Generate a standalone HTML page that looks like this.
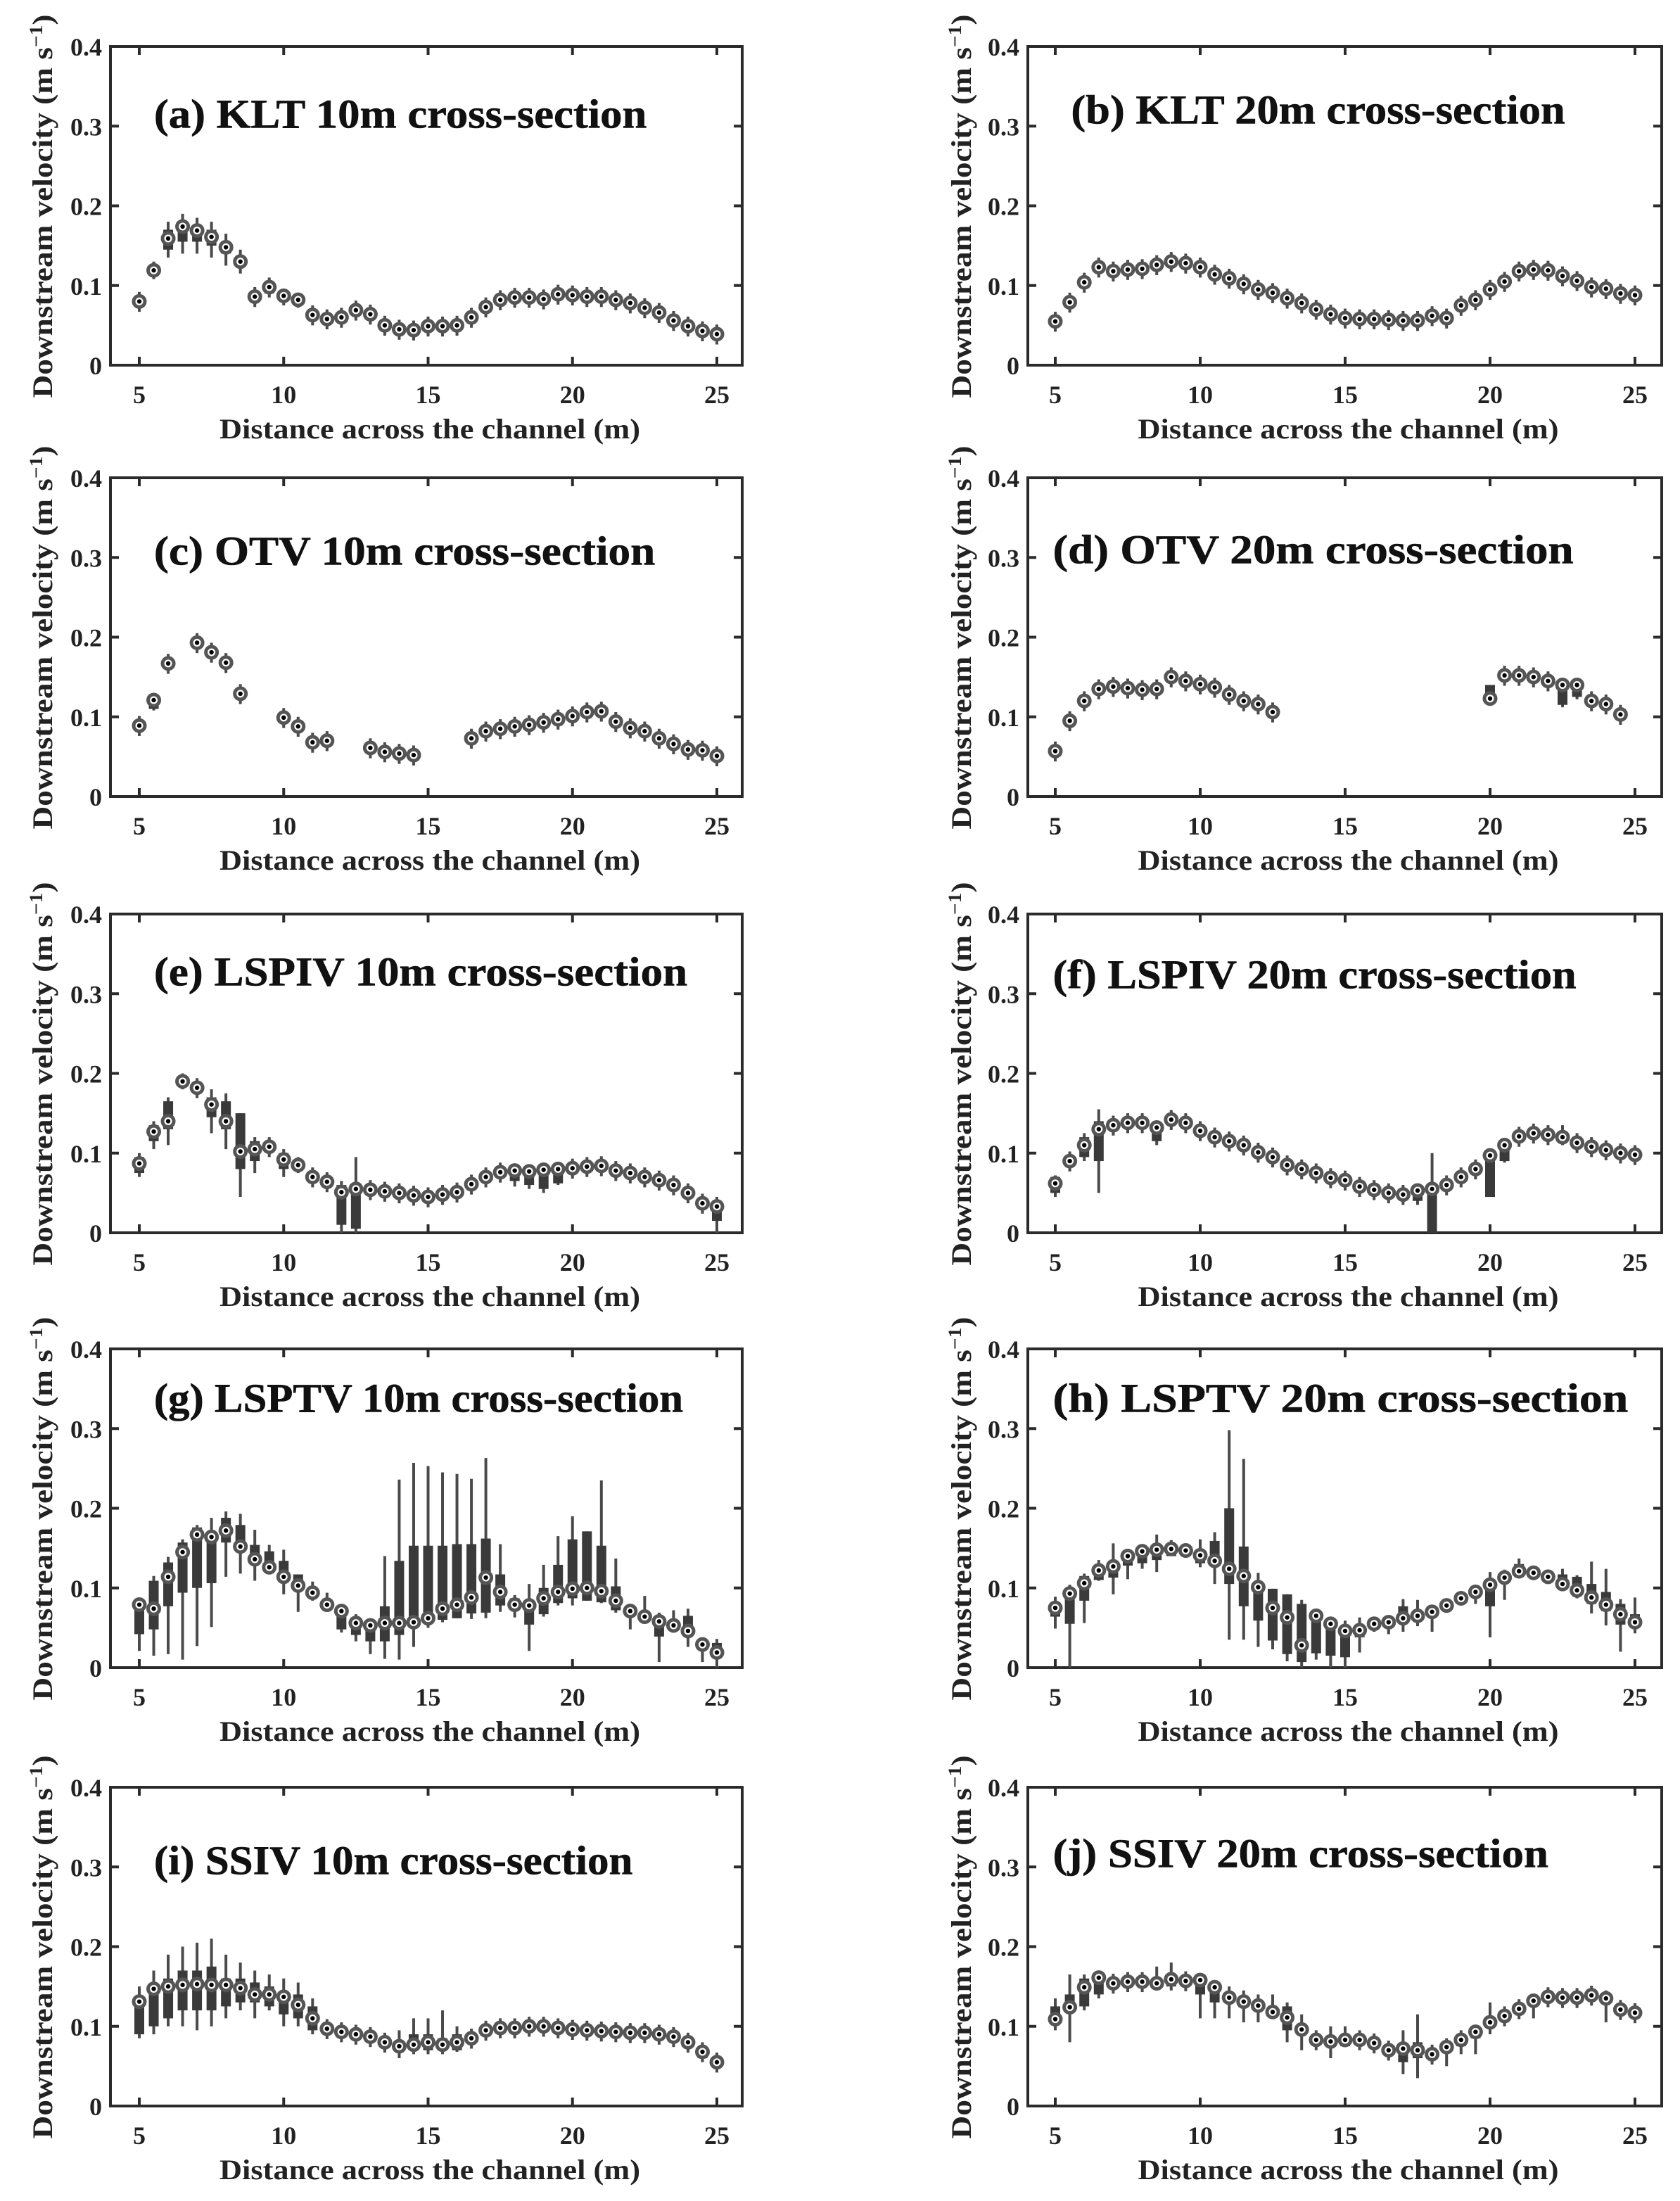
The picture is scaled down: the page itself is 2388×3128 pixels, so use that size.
<!DOCTYPE html>
<html><head><meta charset="utf-8"><style>html,body{margin:0;padding:0;background:#fff}svg{display:block}</style></head>
<body>
<svg id="s" xmlns="http://www.w3.org/2000/svg" width="2388" height="3128" viewBox="0 0 2388 3128"></svg>
<script>
const S=document.getElementById('s');let h='';
const cols=[{l:157,r:1055,x5:198,x25:1019,yl:60},{l:1461,r:2362,x5:1500,x25:2324,yl:1366}];
const bots=[519,1132,1752,2370,2993];
const titles=[
['(a) KLT 10m cross-section',0,0,110,462,49],['(b) KLT 20m cross-section',1,0,765,1118,46],
['(c) OTV 10m cross-section',0,1,110,468,53],['(d) OTV 20m cross-section',1,1,752,1124,52],
['(e) LSPIV 10m cross-section',0,2,110,491,42],['(f) LSPIV 20m cross-section',1,2,752,1126,44],
['(g) LSPTV 10m cross-section',0,3,110,488,36],['(h) LSPTV 20m cross-section',1,3,752,1163,36],
['(i) SSIV 10m cross-section',0,4,110,452,53],['(j) SSIV 20m cross-section',1,4,752,1106,48]];
const N=null;
const M={
a:[.080,.119,.159,.174,.169,.161,.148,.130,.086,.098,.087,.082,.063,.058,.060,.069,.064,.050,.045,.044,.049,.049,.050,.060,.073,.082,.085,.085,.083,.089,.088,.086,.086,.082,.078,.072,.066,.056,.049,.043,.039],
b:[.055,.079,.104,.123,.118,.120,.121,.126,.130,.128,.123,.114,.109,.102,.095,.091,.084,.078,.070,.064,.059,.058,.058,.057,.056,.056,.062,.059,.075,.082,.095,.105,.118,.120,.119,.112,.106,.098,.096,.090,.088],
c:[.089,.121,.167,N,.193,.181,.168,.129,N,N,.099,.088,.068,.070,N,N,.061,.056,.054,.052,N,N,N,.073,.082,.085,.088,.090,.093,.097,.101,.106,.107,.094,.086,.082,.073,.066,.059,.058,.051],
d:[.057,.095,.120,.135,.138,.136,.134,.135,.150,.145,.141,.137,.128,.120,.116,.106,N,N,N,N,N,N,N,N,N,N,N,N,N,N,.123,.152,.152,.150,.145,.140,.140,.120,.116,.103,N],
e:[.087,.127,.140,.190,.182,.161,.140,.102,.105,.108,.092,.085,.070,.064,.051,.055,.054,.052,.050,.047,.045,.048,.051,.061,.070,.076,.078,.077,.079,.080,.081,.083,.084,.078,.075,.070,.066,.060,.050,.037,.033],
f:[.062,.090,.110,.130,.135,.138,.138,.132,.142,.138,.128,.120,.115,.110,.101,.095,.085,.080,.075,.069,.066,.058,.054,.050,.048,.053,.055,.060,.070,.080,.097,.110,.121,.125,.123,.120,.113,.108,.104,.100,.098],
g:[.079,.074,.114,.145,.167,.164,.172,.152,.136,.126,.114,.103,.094,.079,.071,.056,.053,.056,.056,.057,.062,.074,.079,.088,.113,.095,.079,.078,.087,.095,.099,.100,.096,.084,.071,.064,.058,.053,.046,.029,.019],
h:[.075,.093,.106,.122,.127,.140,.146,.148,.149,.147,.141,.134,.124,.115,.101,.075,.063,.028,.065,.055,.046,.047,.055,.057,.062,.065,.070,.078,.087,.095,.104,.113,.121,.119,.114,.105,.097,.088,.079,.067,.057],
i:[.131,.147,.150,.152,.153,.152,.152,.148,.140,.140,.137,.127,.110,.097,.093,.090,.087,.080,.075,.077,.080,.077,.080,.085,.095,.098,.098,.100,.100,.098,.096,.095,.094,.093,.092,.092,.090,.087,.080,.068,.055],
j:[.109,.124,.149,.161,.154,.156,.156,.154,.159,.157,.158,.149,.136,.131,.126,.118,.111,.096,.083,.081,.083,.083,.079,.070,.072,.070,.065,.074,.083,.093,.105,.113,.122,.132,.137,.136,.136,.139,.135,.121,.117]};
// boxes: x:[bLo,bHi,wLo,wHi]
const B={
a:{6:[.145,.17,.135,.18],6.5:[.155,.18,.14,.19],7:[.155,.175,.14,.185],7.5:[.15,.17,.135,.18],8:[.14,.155,.125,.165],8.5:[.125,.135,.115,.145],5.5:[.115,.12,.108,.13],9.5:[.09,.1,.085,.11],10:[.08,.09,.075,.095],10.5:[.078,.085,.072,.09]},
b:{},
c:{5.5:[.11,.122,.108,.125]},
d:{20:[.12,.14,.118,.14],22.5:[.115,.14,.112,.142],23:[.125,.14,.122,.142]},
e:{5:[.075,.095,.07,.1],5.5:[.115,.135,.105,.14],6:[.13,.165,.11,.17],6.5:[.185,.195,.18,.2],7.5:[.145,.17,.125,.18],8:[.13,.165,.105,.175],8.5:[.08,.15,.045,.15],9:[.09,.115,.075,.12],10:[.08,.1,.07,.105],10.5:[.08,.088,.075,.095],12:[.01,.06,0,.065],12.5:[.005,.06,0,.095],18:[.065,.08,.058,.082],18.5:[.06,.08,.055,.082],19:[.055,.08,.05,.082],19.5:[.062,.082,.06,.085],25:[.015,.04,0,.045]},
f:{5:[.05,.07,.045,.072],6:[.095,.12,.09,.125],6.5:[.09,.14,.05,.155],8.5:[.115,.135,.11,.138],17.5:[.04,.055,.035,.06],18:[0,.055,0,.1],20:[.045,.1,.045,.105],20.5:[.09,.112,.088,.115],22.5:[.115,.125,.11,.135]},
g:{},h:{},
i:{5:[.09,.135,.085,.15],5.5:[.1,.15,.09,.17],6:[.11,.16,.1,.19],6.5:[.12,.17,.1,.2],7:[.12,.17,.095,.205],7.5:[.12,.175,.1,.21],8:[.125,.16,.11,.19],8.5:[.13,.16,.12,.18],9:[.13,.155,.11,.17],9.5:[.125,.15,.12,.165],10:[.115,.14,.1,.16],10.5:[.11,.14,.1,.155],11:[.095,.125,.09,.135],14:[.07,.08,.06,.095],14.5:[.07,.09,.065,.11],15:[.07,.09,.065,.11],15.5:[.07,.085,.065,.12],16:[.07,.09,.068,.1],24.5:[.06,.07,.055,.08]},
j:{5:[.105,.125,.095,.135],5.5:[.12,.14,.08,.165],6:[.125,.16,.12,.165],6.5:[.14,.165,.135,.17],8.5:[.15,.16,.145,.175],9:[.15,.162,.145,.18],10:[.14,.16,.11,.165],10.5:[.13,.15,.11,.155],11:[.13,.14,.11,.15],11.5:[.125,.135,.105,.145],12:[.12,.13,.105,.14],12.5:[.115,.12,.11,.14],13:[.095,.125,.08,.13],13.5:[.09,.1,.07,.115],14.5:[.075,.085,.06,.1],15:[.075,.085,.075,.1],17:[.055,.075,.04,.095],17.5:[.06,.08,.035,.115],18.5:[.07,.078,.05,.085],19:[.075,.085,.065,.095],19.5:[.085,.095,.065,.1],20:[.1,.11,.09,.13],21.5:[.125,.135,.11,.14],24:[.13,.14,.105,.145]}};
// g and h from detailed reading
const gB=[[.042,.079,.021,.082],[.048,.109,.015,.115],[.077,.132,.017,.139],[.094,.157,.01,.161],[.10,.176,.027,.179],[.106,.169,.051,.188],[.157,.188,.114,.196],[.146,.179,.118,.193],[.132,.154,.109,.173],[.124,.146,.123,.154],[.111,.134,.092,.148],[.099,.117,.07,.117],[.09,.1,.084,.108],[.075,.082,.075,.094],[.048,.074,.044,.079],[.041,.063,.033,.067],[.033,.054,.017,.054],[.033,.077,.011,.14],[.041,.134,.01,.236],[.051,.153,.026,.257],[.056,.153,.05,.253],[.060,.153,.057,.245],[.062,.155,.062,.243],[.068,.155,.061,.237],[.069,.162,.062,.263],[.078,.117,.07,.155],[.075,.087,.063,.091],[.054,.081,.021,.105],[.067,.1,.064,.129],[.081,.129,.078,.165],[.087,.161,.078,.19],[.084,.171,.084,.171],[.082,.153,.081,.235],[.072,.102,.069,.137],[.068,.078,.048,.08],[.06,.068,.055,.09],[.039,.063,.007,.069],[.048,.056,.047,.072],[.039,.065,.026,.074],[.026,.032,.007,.033],[.014,.031,0,.036]];
const hB=[[.064,.08,.049,.089],[.055,.098,0,.104],[.084,.115,.056,.118],[.11,.127,.109,.135],[.113,.134,.092,.156],[.128,.146,.111,.149],[.131,.149,.124,.153],[.135,.155,.12,.167],[.14,.15,.14,.16],[.142,.15,.14,.155],[.131,.147,.126,.161],[.128,.159,.105,.17],[.105,.2,.035,.298],[.077,.152,.035,.262],[.059,.104,.026,.119],[.034,.099,.023,.099],[.017,.092,.008,.092],[.007,.08,0,.085],[.018,.069,.01,.072],[.015,.059,0,.062],[.013,.053,0,.059],[.038,.05,.019,.063],[.05,.058,.045,.06],[.054,.06,.042,.065],[.055,.077,.045,.086],[.06,.068,.052,.085],[.064,.072,.045,.077],[.074,.082,.07,.084],[.083,.09,.08,.093],[.09,.1,.08,.103],[.077,.106,.038,.12],[.11,.116,.085,.123],[.116,.13,.114,.137],[.114,.122,.113,.124],[.11,.118,.11,.12],[.1,.117,.098,.124],[.092,.114,.087,.116],[.08,.105,.068,.133],[.071,.095,.053,.124],[.054,.08,.02,.086],[.051,.067,.043,.088]];
const keys='abcdefghij'.split('');
keys.forEach((k,idx)=>{
 const t=titles[idx], c=cols[t[1]], b=bots[t[2]], top=b-453, k1=113.25;
 const X=v=>c.x5+(v-5)*(c.x25-c.x5)/20, Y=v=>b-v*10*k1;
 // frame
 h+=`<rect x="${c.l}" y="${top}" width="${c.r-c.l}" height="${b-top}" fill="none" stroke="#2b2b2b" stroke-width="4"/>`;
 for(let v=5;v<=25;v+=5){const x=X(v);h+=`<line x1="${x}" y1="${b}" x2="${x}" y2="${b-12}" stroke="#2b2b2b" stroke-width="4"/><line x1="${x}" y1="${top}" x2="${x}" y2="${top+12}" stroke="#2b2b2b" stroke-width="4"/>`;
  h+=`<text x="${x}" y="${b+54}" text-anchor="middle" font-size="36" font-weight="bold">${v}</text>`;}
 for(let i=0;i<=4;i++){const y=Y(i/10);h+=`<line x1="${c.l}" y1="${y}" x2="${c.l+12}" y2="${y}" stroke="#2b2b2b" stroke-width="4"/><line x1="${c.r}" y1="${y}" x2="${c.r-12}" y2="${y}" stroke="#2b2b2b" stroke-width="4"/>`;
  h+=`<text x="${c.l-12}" y="${y+13}" text-anchor="end" font-size="36" font-weight="bold">${i==0?'0':(i/10).toFixed(1)}</text>`;}
 h+=`<text x="${(c.l+c.r)/2+5}" y="${b+104}" text-anchor="middle" font-size="40" font-weight="bold" textLength="598" lengthAdjust="spacingAndGlyphs">Distance across the channel (m)</text>`;
 const cy=b-226;
 h+=`<text transform="translate(${c.yl+14},${cy}) rotate(-90)" text-anchor="middle" font-size="40" font-weight="bold" textLength="545" lengthAdjust="spacingAndGlyphs">Downstream velocity (m s<tspan dy="-14" font-size="26">−1</tspan><tspan dy="14">)</tspan></text>`;
 const tx=t[3]*1.99, tw=(t[4]-t[3])*1.99, tb=top+t[5]*1.99+18;
 h+=`<text x="${tx}" y="${tb}" font-size="58" font-weight="bold" textLength="${tw}" lengthAdjust="spacingAndGlyphs" fill="#111" stroke="#111" stroke-width="0.6">${t[0]}</text>`;
 // data
 const m=M[k];
 m.forEach((v,i)=>{ if(v===null) return; const xv=5+i*0.5, x=X(xv);
  let bx=k=='g'?gB[i]:k=='h'?hB[i]:(B[k][xv]||[v-.006,v+.004,v-.013,v+.012]);
  h+=`<line x1="${x}" y1="${Y(bx[2])}" x2="${x}" y2="${Y(bx[3])}" stroke="#4a4a4a" stroke-width="4"/>`;
  h+=`<rect x="${x-7}" y="${Y(bx[1])}" width="14" height="${Math.max(0,Y(bx[0])-Y(bx[1]))}" fill="#3a3a3a"/>`;
 });
 m.forEach((v,i)=>{ if(v===null) return; const x=X(5+i*0.5), y=Y(v);
  h+=`<circle cx="${x}" cy="${y}" r="8" fill="#fff" stroke="#555" stroke-width="5"/><circle cx="${x}" cy="${y}" r="3.2" fill="#000"/>`;
 });
});
S.innerHTML=`<g font-family="'Liberation Serif',serif" fill="#222">${h}</g>`;
</script>
</body></html>
